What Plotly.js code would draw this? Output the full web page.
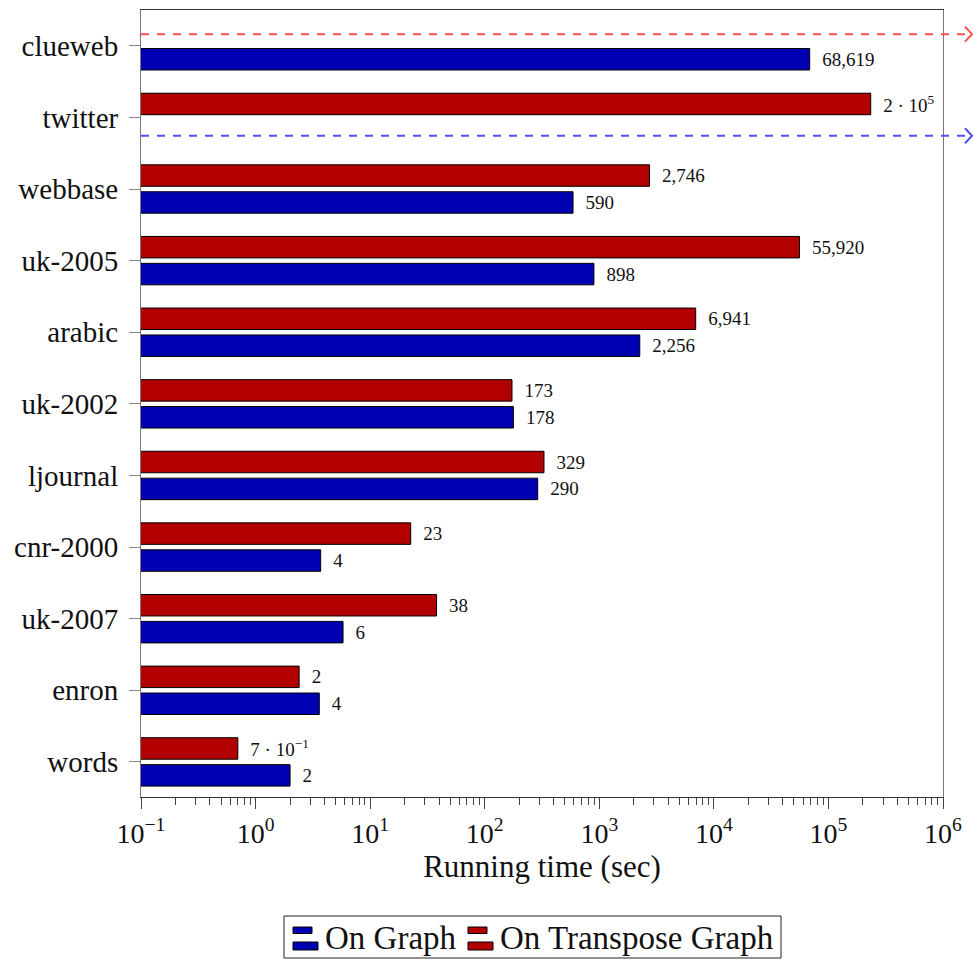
<!DOCTYPE html>
<html>
<head>
<meta charset="utf-8">
<script src="https://cdn.plot.ly/plotly-3.0.1.min.js"></script>
<style>
  html, body { margin: 0; padding: 0; background: #fff; }
  #chart { width: 974px; height: 961px; }
</style>
</head>
<body>
<div id="chart"></div>
<script>
// Graphs, listed bottom to top on the chart
const categories = ['words', 'enron', 'uk-2007', 'cnr-2000', 'ljournal', 'uk-2002',
                    'arabic', 'uk-2005', 'webbase', 'twitter', 'clueweb'];

// Running time in seconds (null = did not finish)
const graphTime     = [2.0, 3.6, 5.8, 3.7, 290, 178, 2256, 898, 590, null, 68619];
const transposeTime = [0.7, 2.4, 38, 22.6, 329, 173, 6941, 55920, 2746, 234000, null];

// Runs that did not finish: drawn as dashed arrows running off the axis
const unfinishedGraph     = ['twitter'];
const unfinishedTranspose = ['clueweb'];

// Log-axis decades and their labels
const xTickVals = [1e-1, 1e0, 1e1, 1e2, 1e3, 1e4, 1e5, 1e6];
const xTickText = ['10<sup>−1</sup>', '10<sup>0</sup>', '10<sup>1</sup>', '10<sup>2</sup>',
                   '10<sup>3</sup>', '10<sup>4</sup>', '10<sup>5</sup>', '10<sup>6</sup>'];

const seriesNames = ['On Graph', 'On Transpose Graph'];
const blue = 'rgb(0,0,178)';
const red = 'rgb(178,0,0)';
const FONT = 'Liberation Serif';

// minor ticks at 2..9 of each decade
const minorTicks = [];
for (let e = -1; e < 6; e++) {
  for (let m = 2; m <= 9; m++) minorTicks.push(m * Math.pow(10, e));
}

// value label in the style of pgfplots: grouped integers, scientific outside [1, 1e5)
function fmt(v) {
  if (v === null) return '';
  if (v >= 1e5 || v < 1) {
    let exp = Math.floor(Math.log10(v));
    let mant = Math.round(v / Math.pow(10, exp));
    if (mant === 10) { mant = 1; exp += 1; }
    const e = exp < 0 ? '−' + (-exp) : String(exp);
    return '\u2002' + mant + ' · 10<sup>' + e + '</sup>';
  }
  return '\u2002' + Math.round(v).toLocaleString('en-US');
}

const BAR_W = 0.30;
const labelFont = { family: FONT, size: 19, color: '#111' };

const traces = [
  {
    type: 'bar', orientation: 'h', name: seriesNames[0],
    y: categories, x: graphTime,
    width: BAR_W, offset: -0.338,
    marker: { color: blue, line: { color: '#000', width: 1 } },
    text: graphTime.map(fmt), textposition: 'outside', constraintext: 'none',
    textfont: labelFont,
    cliponaxis: false, hoverinfo: 'x+y', showlegend: false
  },
  {
    type: 'bar', orientation: 'h', name: seriesNames[1],
    y: categories, x: transposeTime,
    width: BAR_W, offset: 0.038,
    marker: { color: red, line: { color: '#000', width: 1 } },
    text: transposeTime.map(fmt), textposition: 'outside', constraintext: 'none',
    textfont: labelFont,
    cliponaxis: false, hoverinfo: 'x+y', showlegend: false
  }
];

// plot-area geometry in pixels, for placing the legend
const M = { l: 141, r: 31, t: 10, b: 164 };
const W = 974, H = 961;
const PW = W - M.l - M.r, PH = H - M.t - M.b;
const px = x => (x - M.l) / PW;
const py = y => (H - M.b - y) / PH;

const shapes = [];
const ARROW_END = px(972);
function addArrow(cat, dy, color) {
  const yv = categories.indexOf(cat) + dy;
  shapes.push({ type: 'line', xref: 'paper', yref: 'y', x0: 0, x1: ARROW_END - 0.001, y0: yv, y1: yv,
                line: { color: color, width: 2, dash: '8px,8px' } });
  shapes.push({ type: 'path', xref: 'paper', yref: 'y', xsizemode: 'pixel', ysizemode: 'pixel',
                xanchor: ARROW_END, yanchor: yv, path: 'M-7,-7.5L0,0L-7,7.5',
                line: { color: color, width: 2 }, fillcolor: 'rgba(0,0,0,0)' });
}
unfinishedTranspose.forEach(c => addArrow(c, 0.163, 'rgb(255,80,80)'));
unfinishedGraph.forEach(c => addArrow(c, -0.256, 'rgb(80,80,255)'));

// legend: framed box with two-bar icons
const LEG = { x0: 284, x1: 781, y0: 916, y1: 958 };
shapes.push({ type: 'rect', xref: 'paper', yref: 'paper',
              x0: px(LEG.x0), x1: px(LEG.x1), y0: py(LEG.y0), y1: py(LEG.y1),
              line: { color: '#222', width: 1 }, fillcolor: '#fff' });
function legendIcon(xLeft, color) {
  shapes.push({ type: 'rect', xref: 'paper', yref: 'paper',
                x0: px(xLeft), x1: px(xLeft + 19), y0: py(927), y1: py(933.5),
                line: { color: '#000', width: 1 }, fillcolor: color });
  shapes.push({ type: 'rect', xref: 'paper', yref: 'paper',
                x0: px(xLeft), x1: px(xLeft + 25), y0: py(942), y1: py(950),
                line: { color: '#000', width: 1 }, fillcolor: color });
}
legendIcon(293, blue);
legendIcon(468, red);

const annotations = [
  { xref: 'paper', yref: 'paper', x: px(323), y: py(938), xanchor: 'left', yanchor: 'middle',
    text: seriesNames[0], showarrow: false, font: { family: FONT, size: 33, color: '#111' } },
  { xref: 'paper', yref: 'paper', x: px(498), y: py(938), xanchor: 'left', yanchor: 'middle',
    text: seriesNames[1], showarrow: false, font: { family: FONT, size: 33, color: '#111' } }
];

const layout = {
  width: W, height: H,
  margin: M,
  paper_bgcolor: '#fff', plot_bgcolor: '#fff',
  barmode: 'overlay',
  showlegend: false,
  font: { family: FONT, color: '#111' },
  xaxis: {
    type: 'log', range: [-1, 6],
    tickmode: 'array', tickvals: xTickVals, ticktext: xTickText,
    ticks: 'outside', ticklen: 11, tickwidth: 1, tickcolor: '#444',
    tickfont: { family: FONT, size: 28, color: '#111' },
    minor: { tickmode: 'array', tickvals: minorTicks, ticks: 'outside', ticklen: 7,
             tickwidth: 1, tickcolor: '#444', showgrid: false },
    showline: true, linecolor: '#333', linewidth: 1, mirror: true,
    showgrid: false, zeroline: false,
    title: { text: 'Running time (sec)', font: { family: FONT, size: 31, color: '#111' }, standoff: 0 }
  },
  yaxis: {
    type: 'category', categoryorder: 'array', categoryarray: categories,
    range: [-0.49, 10.5],
    ticks: 'outside', ticklen: 11, tickwidth: 1, tickcolor: '#888',
    tickfont: { family: FONT, size: 29, color: '#111' },
    ticklabelstandoff: 5,
    showline: true, linecolor: '#777', linewidth: 1, mirror: true,
    showgrid: false, zeroline: false
  },
  shapes: shapes,
  annotations: annotations
};

Plotly.newPlot('chart', traces, layout, { displayModeBar: false, staticPlot: true });
</script>
</body>
</html>
